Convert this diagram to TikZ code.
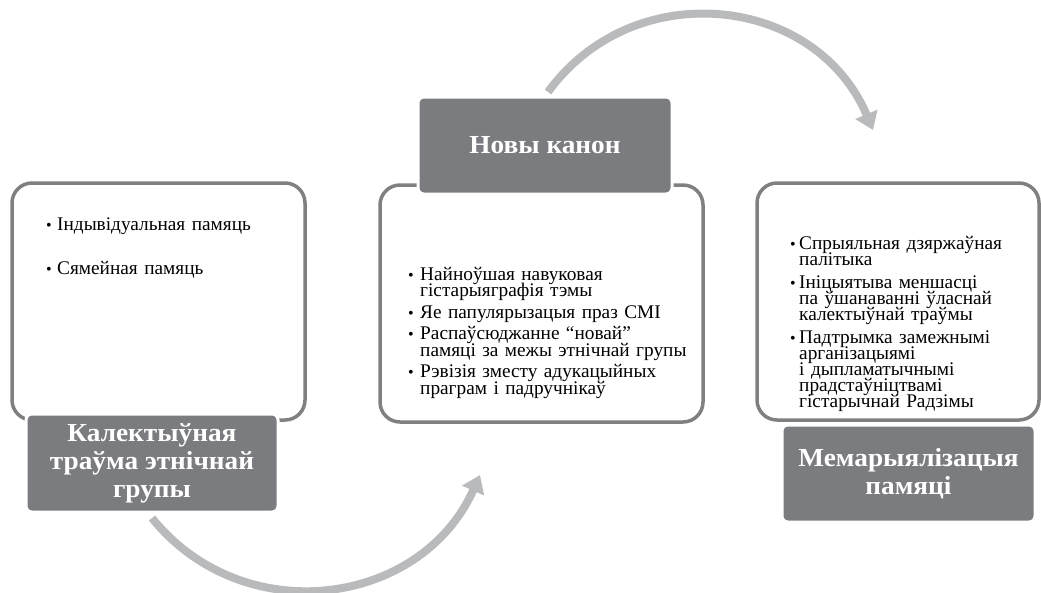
\documentclass[tikz,border=0pt]{standalone}
\usepackage{fontspec}
\setmainfont{Liberation Serif}
\newfontfamily\labfont{Liberation Serif}[FakeStretch=1.05]
\usetikzlibrary{arrows.meta}
\definecolor{boxline}{RGB}{128,128,128}
\definecolor{labfill}{RGB}{123,124,128}
\definecolor{arrowgrey}{RGB}{185,186,188}
\newlength{\itmind}
\newcommand{\itm}{\noindent\hangindent=\itmind\hangafter=1\rule{0pt}{16pt}\makebox[\itmind][l]{\fontsize{16}{16}\selectfont\textbullet}}

\begin{document}
\begin{tikzpicture}[x=1pt,y=-1pt]
\tikzstyle{every node}+=[inner sep=0pt]
\tikzstyle{membox}=[draw=boxline, line width=3.5pt, rounded corners=20pt, fill=white]
\tikzstyle{labbox}=[fill=labfill, draw=white, line width=3pt, rounded corners=6pt, text=white, align=center, font=\labfont\fontsize{26}{28}\selectfont\bfseries]
\tikzstyle{itemtxt}=[anchor=north west, font=\fontsize{19.3}{16.5}\selectfont]
\tikzstyle{roundarrow}=[draw=arrowgrey, line width=8pt, -{Triangle[width=23pt,length=17pt]}]
\useasboundingbox (0,0) rectangle (1041,592);
% white boxes
\node[membox, minimum width=293pt, minimum height=237pt] (trauma) at (158.5,301.5) {};
\node[membox, minimum width=323pt, minimum height=237pt] (canon) at (541.5,303.5) {};
\node[membox, minimum width=282pt, minimum height=237pt] (memor) at (898,301.5) {};
% lists
\node[itemtxt, text width=250pt] (traumatxt) at (46,214) {%
\raggedright\lineskiplimit=-20pt\setlength{\parskip}{27.5pt}\setlength{\itmind}{11pt}%
\itm Індывідуальная памяць\par
\itm Сямейная памяць\par};
\node[itemtxt, text width=290pt] (canontxt) at (408,264) {%
\raggedright\lineskiplimit=-20pt\setlength{\parskip}{5pt}\setlength{\itmind}{12pt}%
\itm Найноўшая навуковая\newline гістарыяграфія тэмы\par
\itm Яе папулярызацыя праз СМІ\par
\itm Распаўсюджанне “новай”\newline памяці за межы этнічнай групы\par
\itm Рэвізія зместу адукацыйных\newline праграм і падручнікаў\par};
\node[itemtxt, text width=245pt, font=\fontsize{19.3}{16}\selectfont] (memortxt) at (790,233) {%
\raggedright\lineskiplimit=-20pt\setlength{\parskip}{7pt}\setlength{\itmind}{9pt}%
\itm Спрыяльная дзяржаўная\newline палітыка\par
\itm Ініцыятыва меншасці\newline па ўшанаванні ўласнай\newline калектыўнай траўмы\par
\itm Падтрымка замежнымі\newline арганізацыямі\newline і дыпламатычнымі\newline прадстаўніцтвамі\newline гістарычнай Радзімы\par};
% grey labels
\node[labbox, minimum width=252pt, minimum height=98pt] (traumalab) at (152,463) {Калектыўная\\траўма этнічнай\\групы};
\node[labbox, minimum width=254pt, minimum height=97pt] (canonlab) at (545,145.5) {Новы канон};
\node[labbox, minimum width=253pt, minimum height=97pt] (memorlab) at (908.5,473.5) {Мемарыялізацыя\\памяці};
% arrows
\coordinate (b1) at (152,518);
\coordinate (b2) at (480,475);
\coordinate (t1) at (548,92);
\coordinate (t2) at (873,130);
\draw[roundarrow] (b1) .. controls (243,631) and (421,607) .. (b2);
\draw[roundarrow] (t1) .. controls (634,-26) and (816,-5) .. (t2);
\end{tikzpicture}
\end{document}
